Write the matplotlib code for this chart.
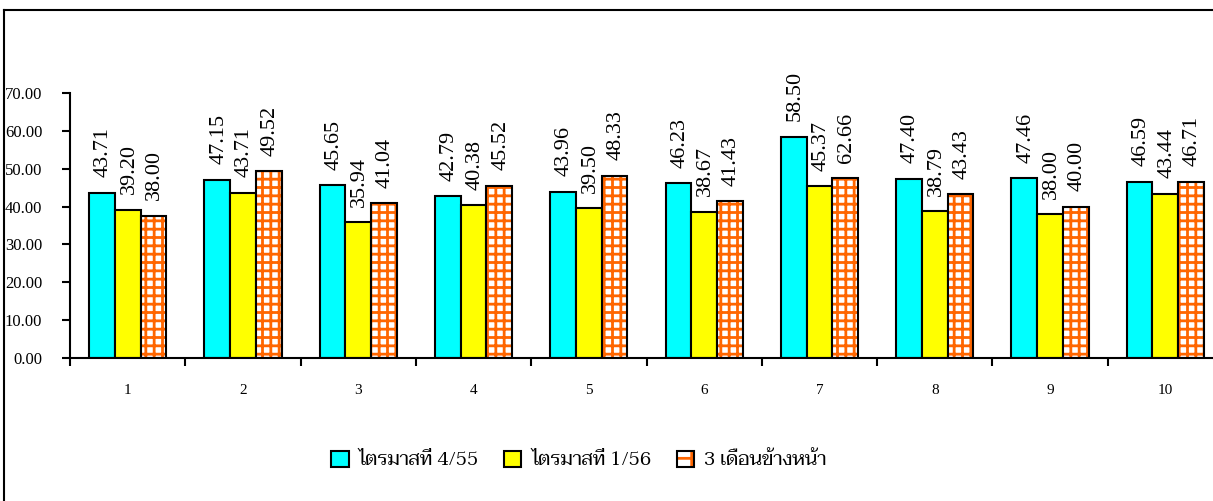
import matplotlib
matplotlib.use("Agg")
import numpy as np
from matplotlib import pyplot as plt
from matplotlib.patches import Rectangle
from matplotlib.lines import Line2D
from matplotlib.legend_handler import HandlerTuple

categories = ["1", "2", "3", "4", "5", "6", "7", "8", "9", "10"]
q4_55 = [43.71, 47.15, 45.65, 42.79, 43.96, 46.23, 58.50, 47.40, 47.46, 46.59]
q1_56 = [39.20, 43.71, 35.94, 40.38, 39.50, 38.67, 45.37, 38.79, 38.00, 43.44]
next3m = [38.00, 49.52, 41.04, 45.52, 48.33, 41.43, 62.66, 43.43, 40.00, 46.71]
# bar heights as drawn in the source (bar 7 is shorter than its label says)
next3m_bars = [37.6, 49.4, 41.0, 45.5, 48.2, 41.5, 47.6, 43.3, 40.0, 46.6]
series_names = ["ไตรมาสที่ 4/55", "ไตรมาสที่ 1/56", "3 เดือนข้างหน้า"]

plt.rcParams["hatch.linewidth"] = 2.0
thai = ["Taviraj", "Liberation Serif", "DejaVu Sans"]

fig = plt.figure(figsize=(12.13, 5.01), dpi=100)
ax = fig.add_axes([70 / 1213, 143 / 501, 1153 / 1213, 265 / 501])

x = np.arange(len(categories))
w = 0.223
ax.bar(x - w, q4_55, w, color="#00FFFF", edgecolor="black", linewidth=1.5)
ax.bar(x, q1_56, w, color="#FFFF00", edgecolor="black", linewidth=1.5)
ax.bar(x + w, next3m_bars, w, color="white", edgecolor="#FF6600",
       hatch="++", linewidth=0)
ax.bar(x + w, next3m_bars, w, fill=False, edgecolor="black", linewidth=1.5)

for vals, heights, off in [(q4_55, q4_55, -w), (q1_56, q1_56, 0),
                           (next3m, next3m_bars, w)]:
    for xi, v, h in zip(x, vals, heights):
        ax.annotate("%.2f" % v, (xi + off, h), xytext=(1, 11),
                    textcoords="offset points", rotation=90,
                    ha="center", va="bottom", fontsize=16,
                    fontfamily="Liberation Serif")

ax.set_xlim(-0.5, 9.5)
ax.set_ylim(0, 70)
ax.set_yticks(np.arange(0, 71, 10))
ax.set_yticklabels(["%.2f" % t for t in np.arange(0, 71, 10)],
                   fontfamily="Liberation Serif", fontsize=12)
ax.set_xticks(x)
ax.set_xticklabels(categories, fontfamily="Liberation Serif", fontsize=11)
ax.set_xticks(np.arange(-0.5, 10, 1), minor=True)
ax.tick_params(axis="x", which="major", length=0, pad=19)
ax.tick_params(axis="x", which="minor", length=6, width=1.5, direction="out")
ax.tick_params(axis="y", length=6, width=1.5, direction="out", pad=14)
for side in ["top", "right"]:
    ax.spines[side].set_visible(False)
ax.spines["left"].set_linewidth(1.5)
ax.spines["bottom"].set_linewidth(1.5)

# legend
h1 = Rectangle((0, 0), 1, 1, facecolor="#00FFFF", edgecolor="black", lw=1.5)
h2 = Rectangle((0, 0), 1, 1, facecolor="#FFFF00", edgecolor="black", lw=1.5)
h3a = Rectangle((0, 0), 1, 1, facecolor="white", edgecolor="#FF6600", hatch="+", lw=0)
h3b = Rectangle((0, 0), 1, 1, fill=False, edgecolor="black", lw=1.5)
fig.legend([h1, h2, (h3a, h3b)], series_names, loc="center", ncol=3,
           bbox_to_anchor=(0.477, 0.082), frameon=False,
           prop={"family": thai, "size": 14}, handlelength=0.9,
           handleheight=0.9, handletextpad=0.5, columnspacing=1.3,
           handler_map={tuple: HandlerTuple(ndivide=1)})

# outer frame
fig.add_artist(Line2D([4 / 1213, 1], [491 / 501, 491 / 501], color="black", lw=1.5))
fig.add_artist(Line2D([4 / 1213, 4 / 1213], [0, 491 / 501], color="black", lw=1.5))

fig.savefig("out.png")
plt.close()
